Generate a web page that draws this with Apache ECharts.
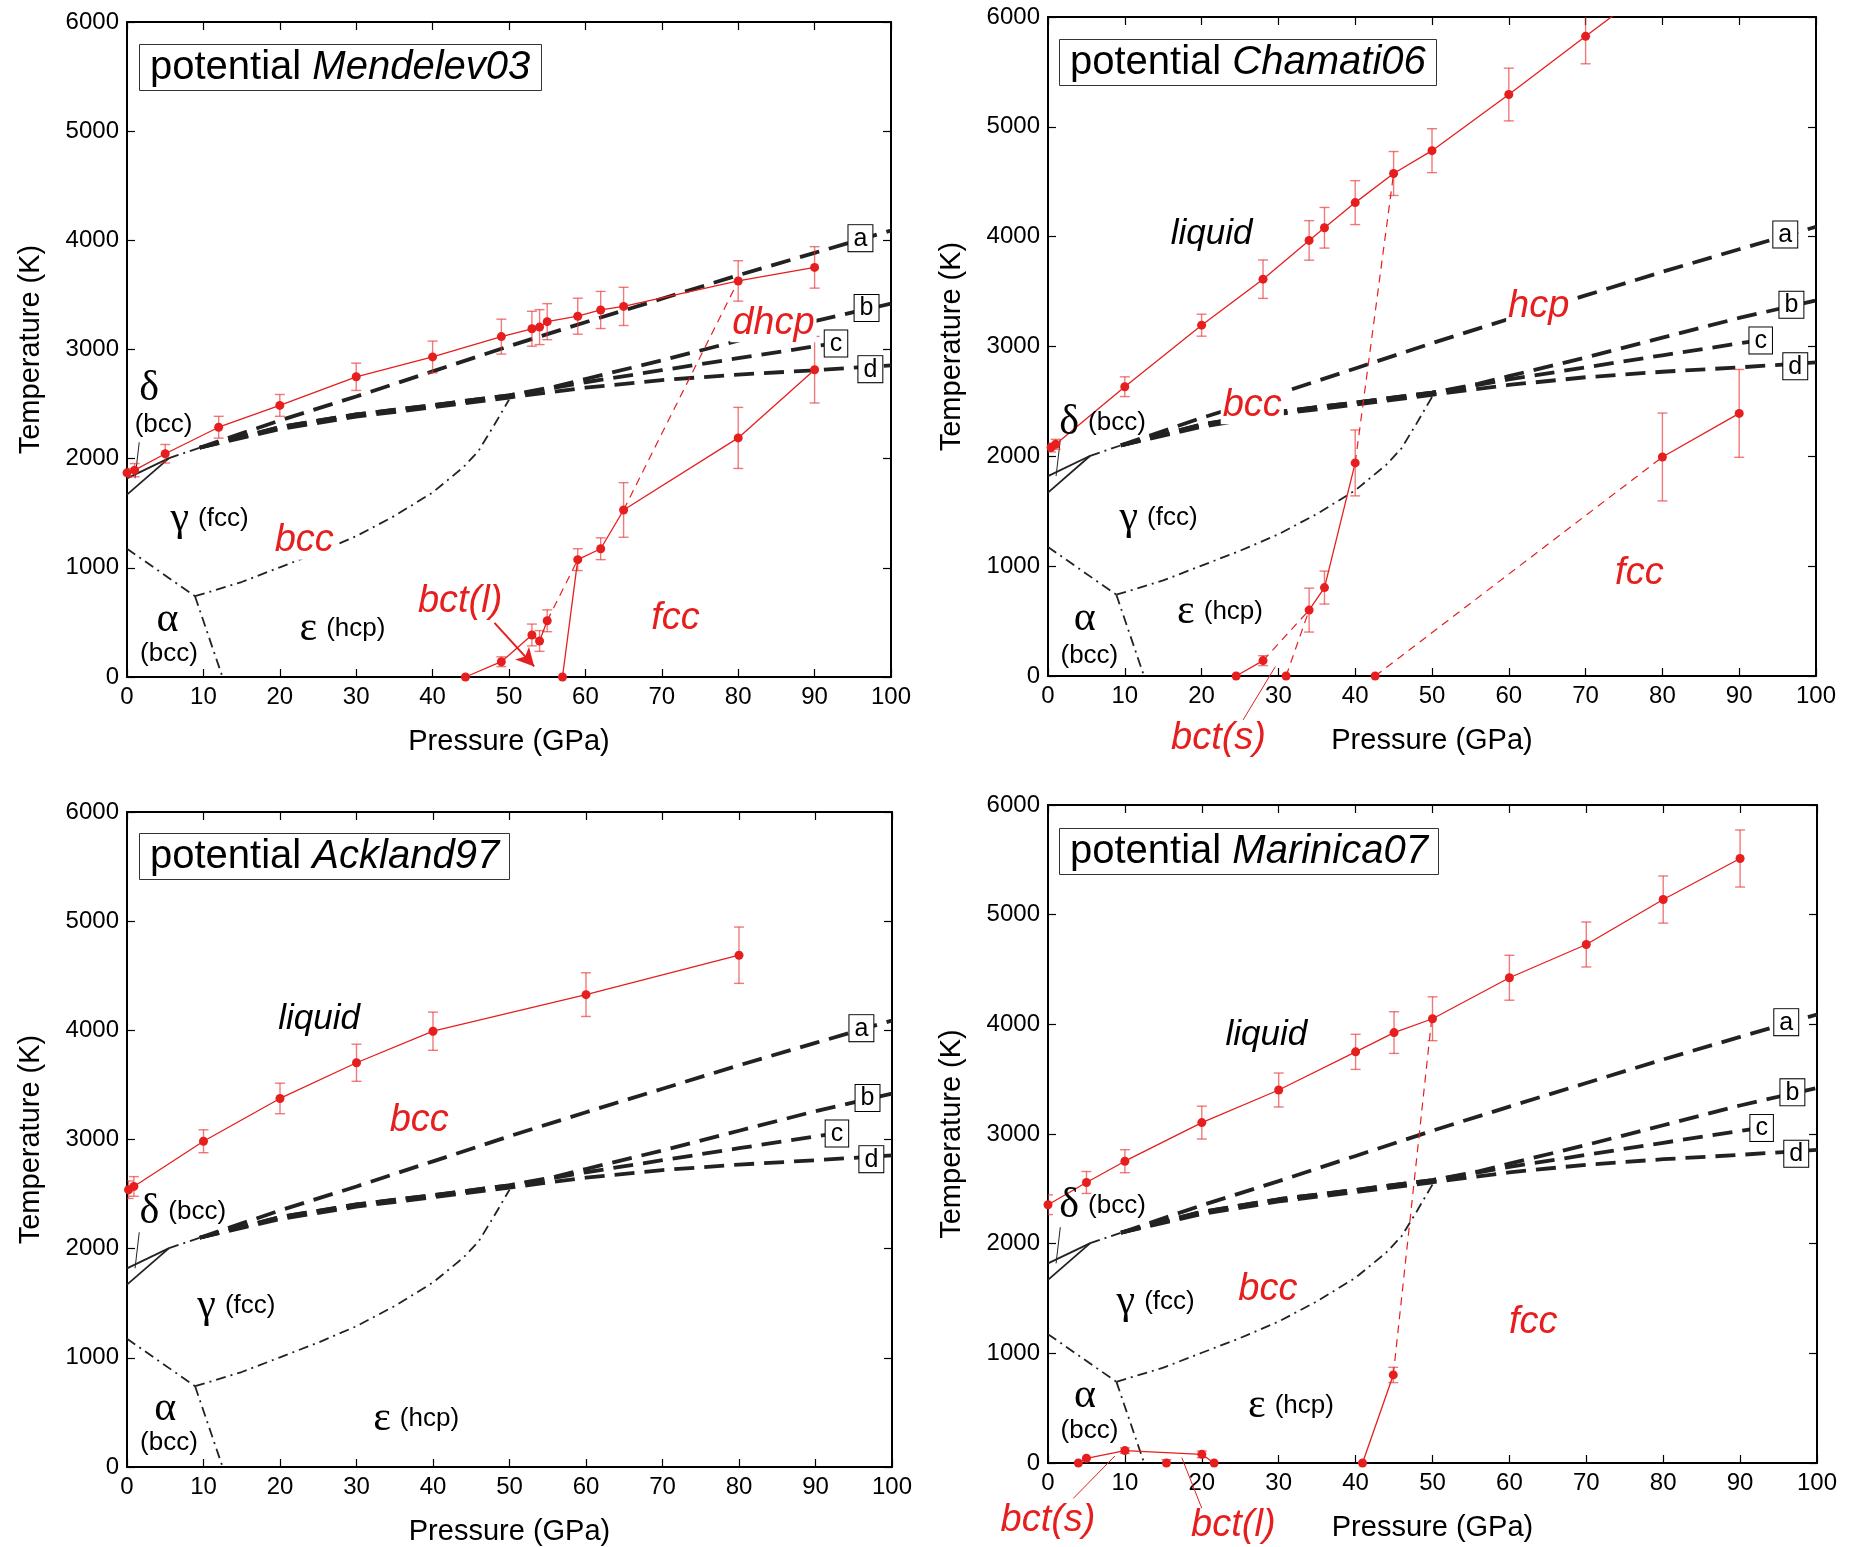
<!DOCTYPE html>
<html><head><meta charset="utf-8">
<script src="https://cdn.jsdelivr.net/npm/echarts@6/dist/echarts.min.js"></script>
<style>html,body{margin:0;padding:0;background:#fff}#c{width:1850px;height:1547px}</style>
</head><body><div id="c"></div><script>
// ---------------- DATA ----------------
const panelTitles = ['Mendelev03', 'Chamati06', 'Ackland97', 'Marinica07'];
const xLabel = 'Pressure (GPa)';
const yLabel = 'Temperature (K)';

// shared experimental phase diagram (black)
const alphaGamma = [[0,1175],[8.9,740]];
const alphaEps = [[8.9,740],[12.5,0]];
const gammaEps = [[8.9,740],[15,870],[20,1005],[25,1140],[30,1290],[35,1475],[40,1690],[44,1920],[46,2070],[48,2300],[50,2540]];
const gammaLiq = [[5.5,2005],[9.5,2100]];
const deltaUpper = [[0,1820],[5.5,2005]];
const deltaLower = [[0,1670],[5.5,2005]];
const deltaLeader = [[1.05,1820],[1.6,2150]];
const lineA = [[9.5,2100],[20,2350],[30,2570],[40,2800],[50,3030],[60,3250],[70,3465],[80,3680],[90,3885],[100,4090]];
const lineB = [[9.5,2100],[20,2290],[30,2405],[40,2490],[50,2580],[56,2660],[60,2730],[70,2900],[80,3080],[90,3260],[100,3420]];
const lineC = [[9.5,2100],[20,2290],[30,2405],[40,2490],[50,2580],[56,2650],[60,2700],[70,2810],[80,2920],[92,3050]];
const lineD = [[9.5,2100],[20,2270],[30,2385],[40,2470],[50,2560],[60,2650],[70,2720],[80,2770],[90,2810],[100,2855]];
const boxLabels = [[96,4020,'a'],[96.8,3380,'b'],[92.8,3055,'c'],[97.3,2820,'d']];

// panel 1: Mendelev03  [P, T, err]
const mendMelt = [[0,1870,40],[1,1895,60],[5,2045,85],[12,2288,100],[20,2488,100],[30,2750,125],[40,2932,145],[49,3118,160],[53,3190,160],[54,3205,160],[55,3255,165],[59,3305,165],[62,3362,170],[65,3395,175],[80,3628,185],[90,3752,190]];
const mendBctL = [[44.3,0,0],[49,140,45],[53,385,100],[54,330,95],[55,515,100]];
const mendBctLDash = [[55,515],[59,1075]];
const mendDhcpDash = [[65,1530],[80,3628]];
const mendFcc = [[57,0,0],[59,1075,100],[62,1175,100],[65,1530,250],[80,2190,280],[90,2815,305]];
const mendArrow = [[48.1,496],[53.3,97]];
const mendLabels = [
  [2.9,2643,'{d|δ}'],[4.2,2311,'{s|(bcc)}'],[10.8,1450,'{g|γ}{s|(fcc)}'],[23.2,1249,'{rw|bcc}'],
  [5.3,518,'{g|α}'],[4.9,208,'{s|(bcc)}'],[28.2,440,'{g|ε}{s|(hcp)}'],
  [43.6,690,'{r|bct(l)}'],[71.8,540,'{r|fcc}'],[84.6,3241,'{rw|dhcp}']
];

// panel 2: Chamati06
const chamMelt = [[0.4,2080,40],[1,2110,45],[10,2634,90],[20,3194,100],[28,3613,175],[34,3966,180],[36,4081,185],[40,4310,200],[45,4575,200],[50,4783,200],[60,5294,240],[70,5824,250],[80,6350,0]];
const chamBctS = [[24.5,0,0],[28,140,45]];
const chamDashA = [[28,140],[34,600]];
const chamDashB = [[31,0],[34,600]];
const chamMid = [[34,600,200],[36,805,150],[40,1940,300]];
const chamDashUp = [[40,1940],[45,4575]];
const chamFccDash = [[42.6,0],[80,1994]];
const chamFcc = [[80,1994,400],[90,2391,400]];
const chamIso = [[31,0,0],[42.6,0,0]];
const chamLeader = [[25.4,-400],[29.6,85]];
const chamLabels = [
  [21.3,4024,'{l|liquid}'],[63.9,3362,'{rw|hcp}'],[26.6,2466,'{rw|bcc}'],
  [7.1,2303,'{d|δ}{s|(bcc)}'],[14.4,1443,'{g|γ}{s|(fcc)}'],
  [4.8,516,'{g|α}'],[4.8,185,'{s|(bcc)}'],[22.4,582,'{g|ε}{s|(hcp)}'],
  [77,935,'{r|fcc}'],[22.2,-565,'{r|bct(s)}']
];

// panel 3: Ackland97
const ackMelt = [[0.2,2540,80],[0.9,2570,90],[10,2984,105],[20,3376,140],[30,3703,170],[40,3992,175],[60,4327,200],[80,4688,258]];
const ackLabels = [
  [25.1,4100,'{l|liquid}'],[38.2,3174,'{r|bcc}'],[7.3,2337,'{d|δ}{s|(bcc)}'],
  [14.3,1478,'{g|γ}{s|(fcc)}'],[5,529,'{g|α}'],[4.9,226,'{s|(bcc)}'],[37.8,438,'{g|ε}{s|(hcp)}']
];

// panel 4: Marinica07
const mariMelt = [[0,2355,90],[5,2558,100],[10,2752,105],[20,3104,150],[30,3401,155],[40,3749,160],[45,3925,190],[50,4051,200],[60,4425,205],[70,4728,205],[80,5138,215],[90,5512,260]];
const mariFcc = [[40.9,0,0],[44.9,803,70]];
const mariFccDash = [[44.9,803],[49.9,4051]];
const mariBct = [[3.95,0,0],[5,43,0],[10,113,25],[20,79,30],[21.6,0,0]];
const mariIso = [[15.4,0,30]];
const mariLeaderS = [[3.3,-322],[8.7,64]];
const mariLeaderL = [[20,-413],[17.4,48]];
const mariLabels = [
  [28.4,3902,'{l|liquid}'],[28.6,1579,'{r|bcc}'],[63.1,1286,'{r|fcc}'],
  [7.1,2346,'{d|δ}{s|(bcc)}'],[14,1466,'{g|γ}{s|(fcc)}'],
  [4.8,609,'{g|α}'],[4.8,293,'{s|(bcc)}'],[31.6,519,'{g|ε}{s|(hcp)}'],
  [0,-520,'{r|bct(s)}'],[24.1,-565,'{r|bct(l)}']
];

// ---------------- STYLE / BUILD ----------------
const F = 'Liberation Sans';
const SERIF = 'Liberation Serif';
const RED = '#e61e1e';
const ERR = 'rgba(232,50,50,0.65)';
const BLK = '#222';

const grids = [
  {left:127, top:22, width:764, height:655},
  {left:1048, top:17, width:768, height:659},
  {left:127, top:812, width:765, height:658},
  {left:1048, top:805, width:769, height:658}
];
const titleBoxes = [[139,44],[1059,39],[139,833],[1059,828]];

const xAxes = [], yAxes = [];
const axLine = {show:true, onZero:false, lineStyle:{color:'#000', width:2}};
const axTick = {show:true, inside:true, length:8, lineStyle:{color:'#000', width:1.2}};
const plain = v => String(v);
for (let i = 0; i < 4; i++) {
  xAxes.push({gridIndex:i, type:'value', min:0, max:100, interval:10, position:'bottom',
    axisLine:axLine, axisTick:axTick, splitLine:{show:false},
    axisLabel:{color:'#000', fontSize:24, fontFamily:F, margin:8, formatter:plain},
    name:xLabel, nameLocation:'middle', nameGap:50,
    nameTextStyle:{fontSize:29, color:'#000', fontFamily:F}});
  yAxes.push({gridIndex:i, type:'value', min:0, max:6000, interval:1000, position:'left',
    axisLine:axLine, axisTick:axTick, splitLine:{show:false},
    axisLabel:{color:'#000', fontSize:24, fontFamily:F, margin:8, formatter:plain},
    name:yLabel, nameLocation:'middle', nameGap:82, nameRotate:90,
    nameTextStyle:{fontSize:29, color:'#000', fontFamily:F}});
}
for (let i = 0; i < 4; i++) {
  xAxes.push({gridIndex:i, type:'value', min:0, max:100, interval:10, position:'top',
    axisLine:axLine, axisTick:axTick, splitLine:{show:false}, axisLabel:{show:false}});
  yAxes.push({gridIndex:i, type:'value', min:0, max:6000, interval:1000, position:'right',
    axisLine:axLine, axisTick:axTick, splitLine:{show:false}, axisLabel:{show:false}});
}

const series = [];
function pts(d) { return d.map(p => [p[0], p[1]]); }
function addLine(i, data, style, extra) {
  series.push(Object.assign({type:'line', xAxisIndex:i, yAxisIndex:i, data:pts(data),
    symbol:'none', showSymbol:false, animation:false, silent:true,
    lineStyle:style, z:3}, extra || {}));
}
const dashBlk = {color:BLK, width:3.8, type:[20,10]};
const dashDot = {color:BLK, width:1.8, type:[10,5,2,5]};
const solidBlk = {color:BLK, width:1.8};
const thinBlk = {color:BLK, width:1};
const redSolid = {color:RED, width:1.3};
const redDash = {color:RED, width:1.2, type:[8,6]};

function addRedPts(i, data, style, extra) {
  series.push(Object.assign({type:'line', xAxisIndex:i, yAxisIndex:i, data:pts(data),
    symbol:'circle', symbolSize:9, showSymbol:true, animation:false, silent:true,
    itemStyle:{color:RED}, lineStyle:style, z:6, clip:true}, extra || {}));
}
function addErr(i, data) {
  const d = data.filter(p => p[2] > 0).map(p => [p[0], p[1]-p[2], p[1]+p[2]]);
  series.push({type:'custom', xAxisIndex:i, yAxisIndex:i, data:d, clip:true, silent:true, z:5,
    encode:{x:0, y:[1,2]},
    renderItem:function(params, api){
      const a = api.coord([api.value(0), api.value(1)]);
      const b = api.coord([api.value(0), api.value(2)]);
      const w = 5, st = {stroke:ERR, lineWidth:1.4};
      return {type:'group', children:[
        {type:'line', shape:{x1:a[0],y1:a[1],x2:b[0],y2:b[1]}, style:st},
        {type:'line', shape:{x1:a[0]-w,y1:a[1],x2:a[0]+w,y2:a[1]}, style:st},
        {type:'line', shape:{x1:b[0]-w,y1:b[1],x2:b[0]+w,y2:b[1]}, style:st}
      ]};
    }});
}
const richStyles = {
  d:{fontFamily:SERIF, fontSize:42, color:'#000', lineHeight:46, verticalAlign:'middle'},
  g:{fontFamily:SERIF, fontSize:42, color:'#000', lineHeight:46, verticalAlign:'middle'},
  s:{fontFamily:F, fontSize:26, color:'#000', lineHeight:46, verticalAlign:'middle', padding:[0,0,0,9]},
  l:{fontFamily:F, fontSize:35, color:'#000', fontStyle:'italic'},
  r:{fontFamily:F, fontSize:38, color:RED, fontStyle:'italic'},
  rw:{fontFamily:F, fontSize:38, color:RED, fontStyle:'italic', backgroundColor:'#fff', padding:[0,2]},
  bx:{fontFamily:F, fontSize:25, color:'#000', backgroundColor:'#fff', borderColor:'#000', borderWidth:1, padding:[1,5,0,5]}
};
function addLabels(i, labels) {
  series.push({type:'scatter', xAxisIndex:i, yAxisIndex:i, symbol:'circle', symbolSize:1, clip:false, silent:true,
    animation:false, z:8, itemStyle:{color:'rgba(255,255,255,0)', opacity:1},
    label:{show:true, position:'inside', rich:richStyles},
    data:labels.map(l => ({value:[l[0], l[1]], label:{show:true, position:'inside', formatter:l[2], rich:richStyles, opacity:1}}))});
}

for (let i = 0; i < 4; i++) {
  addLine(i, alphaGamma, dashDot);
  addLine(i, alphaEps, dashDot);
  addLine(i, gammaEps, dashDot);
  addLine(i, gammaLiq, dashDot);
  addLine(i, deltaUpper, solidBlk);
  addLine(i, deltaLower, solidBlk);
  addLine(i, deltaLeader, thinBlk);
  addLine(i, lineD, dashBlk);
  addLine(i, lineC, dashBlk);
  addLine(i, lineB, dashBlk);
  addLine(i, lineA, dashBlk);
  addLabels(i, boxLabels.map(b => [b[0], b[1], '{bx|' + b[2] + '}']));
}

// panel 1
addRedPts(0, mendMelt, redSolid);
addRedPts(0, mendBctL, redSolid, {markLine:{silent:true, symbol:['none','arrow'], symbolSize:[14,18], animation:false,
  lineStyle:{color:RED, width:2, type:'solid'}, label:{show:false},
  data:[[{coord:mendArrow[0]},{coord:mendArrow[1]}]]}});
addLine(0, mendBctLDash, redDash, {z:5});
addLine(0, mendDhcpDash, redDash, {z:5});
addRedPts(0, mendFcc, redSolid);
addErr(0, mendMelt); addErr(0, mendBctL); addErr(0, mendFcc);
addLabels(0, mendLabels);

// panel 2
addRedPts(1, chamMelt, redSolid);
addRedPts(1, chamBctS, redSolid);
addLine(1, chamDashA, redDash, {z:5});
addLine(1, chamDashB, redDash, {z:5});
addRedPts(1, chamMid, redSolid);
addLine(1, chamDashUp, redDash, {z:5});
addLine(1, chamFccDash, redDash, {z:5});
addRedPts(1, chamFcc, redSolid);
addRedPts(1, chamIso, {width:0}, {lineStyle:{opacity:0}});
addLine(1, chamLeader, {color:RED, width:1}, {clip:false, z:5});
addErr(1, chamMelt); addErr(1, chamBctS); addErr(1, chamMid); addErr(1, chamFcc);
addLabels(1, chamLabels);

// panel 3
addRedPts(2, ackMelt, redSolid);
addErr(2, ackMelt);
addLabels(2, ackLabels);

// panel 4
addRedPts(3, mariMelt, redSolid);
addRedPts(3, mariFcc, redSolid);
addLine(3, mariFccDash, redDash, {z:5});
addRedPts(3, mariBct, redSolid);
addRedPts(3, mariIso, {width:0}, {lineStyle:{opacity:0}});
addLine(3, mariLeaderS, {color:RED, width:1}, {clip:false, z:5});
addLine(3, mariLeaderL, {color:RED, width:1}, {clip:false, z:5});
addErr(3, mariMelt); addErr(3, mariFcc); addErr(3, mariBct); addErr(3, mariIso);
addLabels(3, mariLabels);

const titles = panelTitles.map((t, i) => ({
  text:'potential {i|' + t + '}', left:titleBoxes[i][0], top:titleBoxes[i][1],
  borderWidth:1, borderColor:'#333', padding:[3,11,3,11], backgroundColor:'#fff',
  textStyle:{fontSize:40, fontWeight:'normal', fontFamily:F, color:'#000', lineHeight:41,
    rich:{i:{fontSize:40, fontStyle:'italic', fontWeight:'normal', fontFamily:F, color:'#000', lineHeight:41}}}
}));

const chart = echarts.init(document.getElementById('c'), null, {renderer:'canvas'});
chart.setOption({
  animation:false, backgroundColor:'#fff',
  title:titles, grid:grids, xAxis:xAxes, yAxis:yAxes, series:series
});
</script></body></html>
